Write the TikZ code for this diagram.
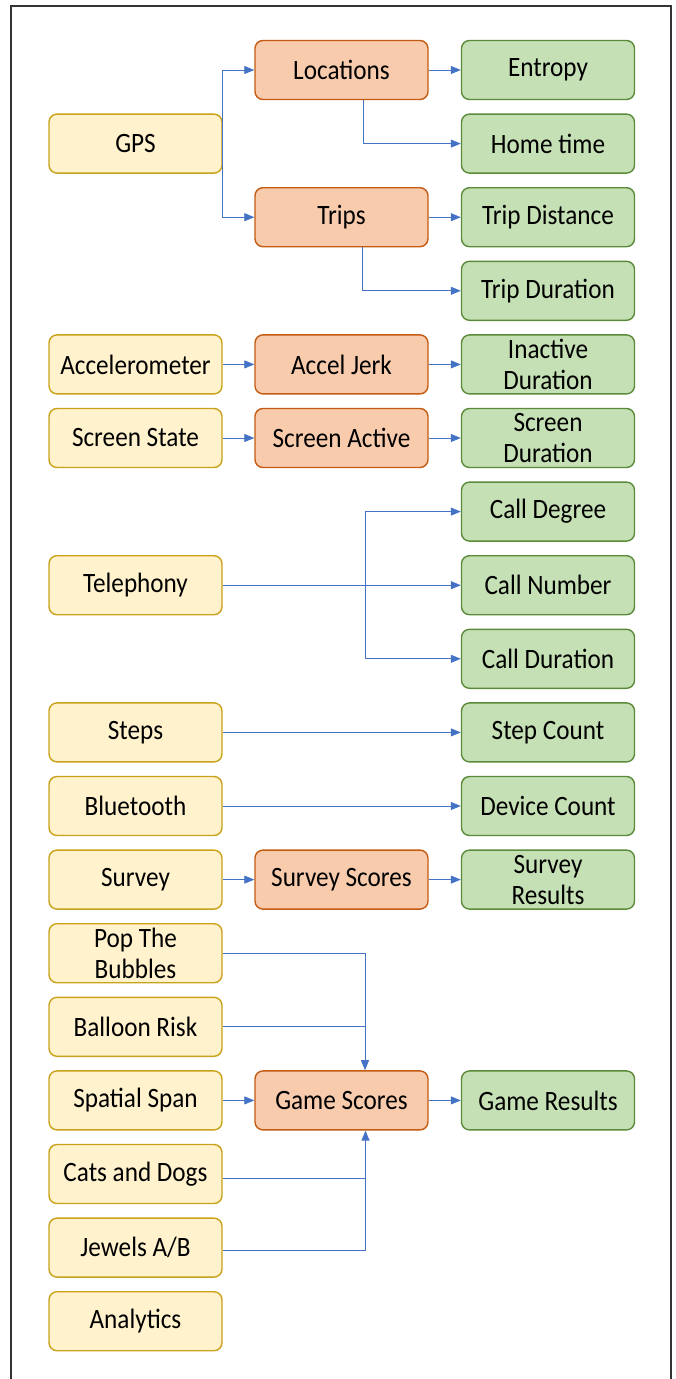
\documentclass[tikz,border=0pt]{standalone}
\usepackage{fontspec}
\setmainfont{Carlito}[FakeStretch=0.9]
\usetikzlibrary{arrows.meta}
\definecolor{yfill}{HTML}{FFF2CC}
\definecolor{ydraw}{HTML}{C9A21A}
\definecolor{ofill}{HTML}{F8CBAD}
\definecolor{odraw}{HTML}{C55A11}
\definecolor{gfill}{HTML}{C5E0B4}
\definecolor{gdraw}{HTML}{5B8A3A}
\definecolor{arrblue}{HTML}{4472C4}
\begin{document}
\begin{tikzpicture}[x=1pt,y=-1pt,
  box/.style={rounded corners=8pt, line width=1.4pt, minimum width=173pt,
    minimum height=59pt, align=center, inner sep=0pt,
    font=\fontsize{28}{31}\selectfont},
  src/.style={box, fill=yfill, draw=ydraw},
  mid/.style={box, fill=ofill, draw=odraw},
  res/.style={box, fill=gfill, draw=gdraw},
  arr/.style={draw=arrblue, line width=0.8pt, -{Triangle[length=10pt,width=8pt]}},
  ln/.style={draw=arrblue, line width=0.8pt}]
\useasboundingbox (0,0) rectangle (676,1379);
\draw[line width=1.3pt, black!80] (11,1380) -- (11,6) -- (671,6) -- (671,1380);
% left column
\node[src] (gps) at (135.5,143.6) {GPS};
\node[src] (acc) at (135.5,364.4) {Accelerometer};
\node[src] (scr) at (135.5,438) {Screen State};
\node[src] (tel) at (135.5,585.2) {Telephony};
\node[src] (stp) at (135.5,732.4) {Steps};
\node[src] (blu) at (135.5,806) {Bluetooth};
\node[src] (sur) at (135.5,879.6) {Survey};
\node[src] (pop) at (135.5,953.2) {Pop The\\Bubbles};
\node[src] (bal) at (135.5,1026.8) {Balloon Risk};
\node[src] (spa) at (135.5,1100.4) {Spatial Span};
\node[src] (cat) at (135.5,1174) {Cats and Dogs};
\node[src] (jew) at (135.5,1247.6) {Jewels A/B};
\node[src] (ana) at (135.5,1321.2) {Analytics};
% middle column
\node[mid] (loc) at (341.5,70) {Locations};
\node[mid] (tri) at (341.5,217.2) {Trips};
\node[mid] (jer) at (341.5,364.4) {Accel Jerk};
\node[mid] (sca) at (341.5,438) {Screen Active};
\node[mid] (ssc) at (341.5,879.6) {Survey Scores};
\node[mid] (gsc) at (341.5,1100.4) {Game Scores};
% right column
\node[res] (ent) at (548,70) {Entropy};
\node[res] (hom) at (548,143.6) {Home time};
\node[res] (tdi) at (548,217.2) {Trip Distance};
\node[res] (tdu) at (548,290.8) {Trip Duration};
\node[res] (ina) at (548,364.4) {Inactive\\Duration};
\node[res] (sdu) at (548,438) {Screen\\Duration};
\node[res] (cde) at (548,511.6) {Call Degree};
\node[res] (cnu) at (548,585.2) {Call Number};
\node[res] (cdu) at (548,658.8) {Call Duration};
\node[res] (sco) at (548,732.4) {Step Count};
\node[res] (dco) at (548,806) {Device Count};
\node[res] (sre) at (548,879.6) {Survey\\Results};
\node[res] (gre) at (548,1100.4) {Game Results};
\coordinate (telj) at (365,585.2);
\coordinate (popj) at (365,953.2);
\coordinate (balj) at (365,1026.8);
\coordinate (catj) at (365.5,1178);
\coordinate (jewj) at (365.5,1250);
% connectors
\draw[arr] (gps.east) |- (loc.west);
\draw[arr] (gps.east) |- (tri.west);
\draw[arr] (loc.east) -- (ent.west);
\draw[arr] ([xshift=21.5pt]loc.south) |- (hom.west);
\draw[arr] (tri.east) -- (tdi.west);
\draw[arr] ([xshift=20.5pt]tri.south) |- (tdu.west);
\draw[arr] (acc.east) -- (jer.west);
\draw[arr] (jer.east) -- (ina.west);
\draw[arr] (scr.east) -- (sca.west);
\draw[arr] (sca.east) -- (sdu.west);
\draw[arr] (tel.east) -- (cnu.west);
\draw[arr] (telj) |- (cde.west);
\draw[arr] (telj) |- (cdu.west);
\draw[arr] (stp.east) -- (sco.west);
\draw[arr] (blu.east) -- (dco.west);
\draw[arr] (sur.east) -- (ssc.west);
\draw[arr] (ssc.east) -- (sre.west);
\draw[ln] (pop.east) -- (popj);
\draw[ln] (bal.east) -- (balj);
\draw[arr] (popj) -- (gsc.north -| popj);
\draw[arr] (spa.east) -- (gsc.west);
\draw[arr] (gsc.east) -- (gre.west);
\draw[ln] (cat.east |- catj) -- (catj);
\draw[ln] (jew.east |- jewj) -- (jewj);
\draw[arr] (jewj) -- (gsc.south -| jewj);
\end{tikzpicture}
\end{document}
